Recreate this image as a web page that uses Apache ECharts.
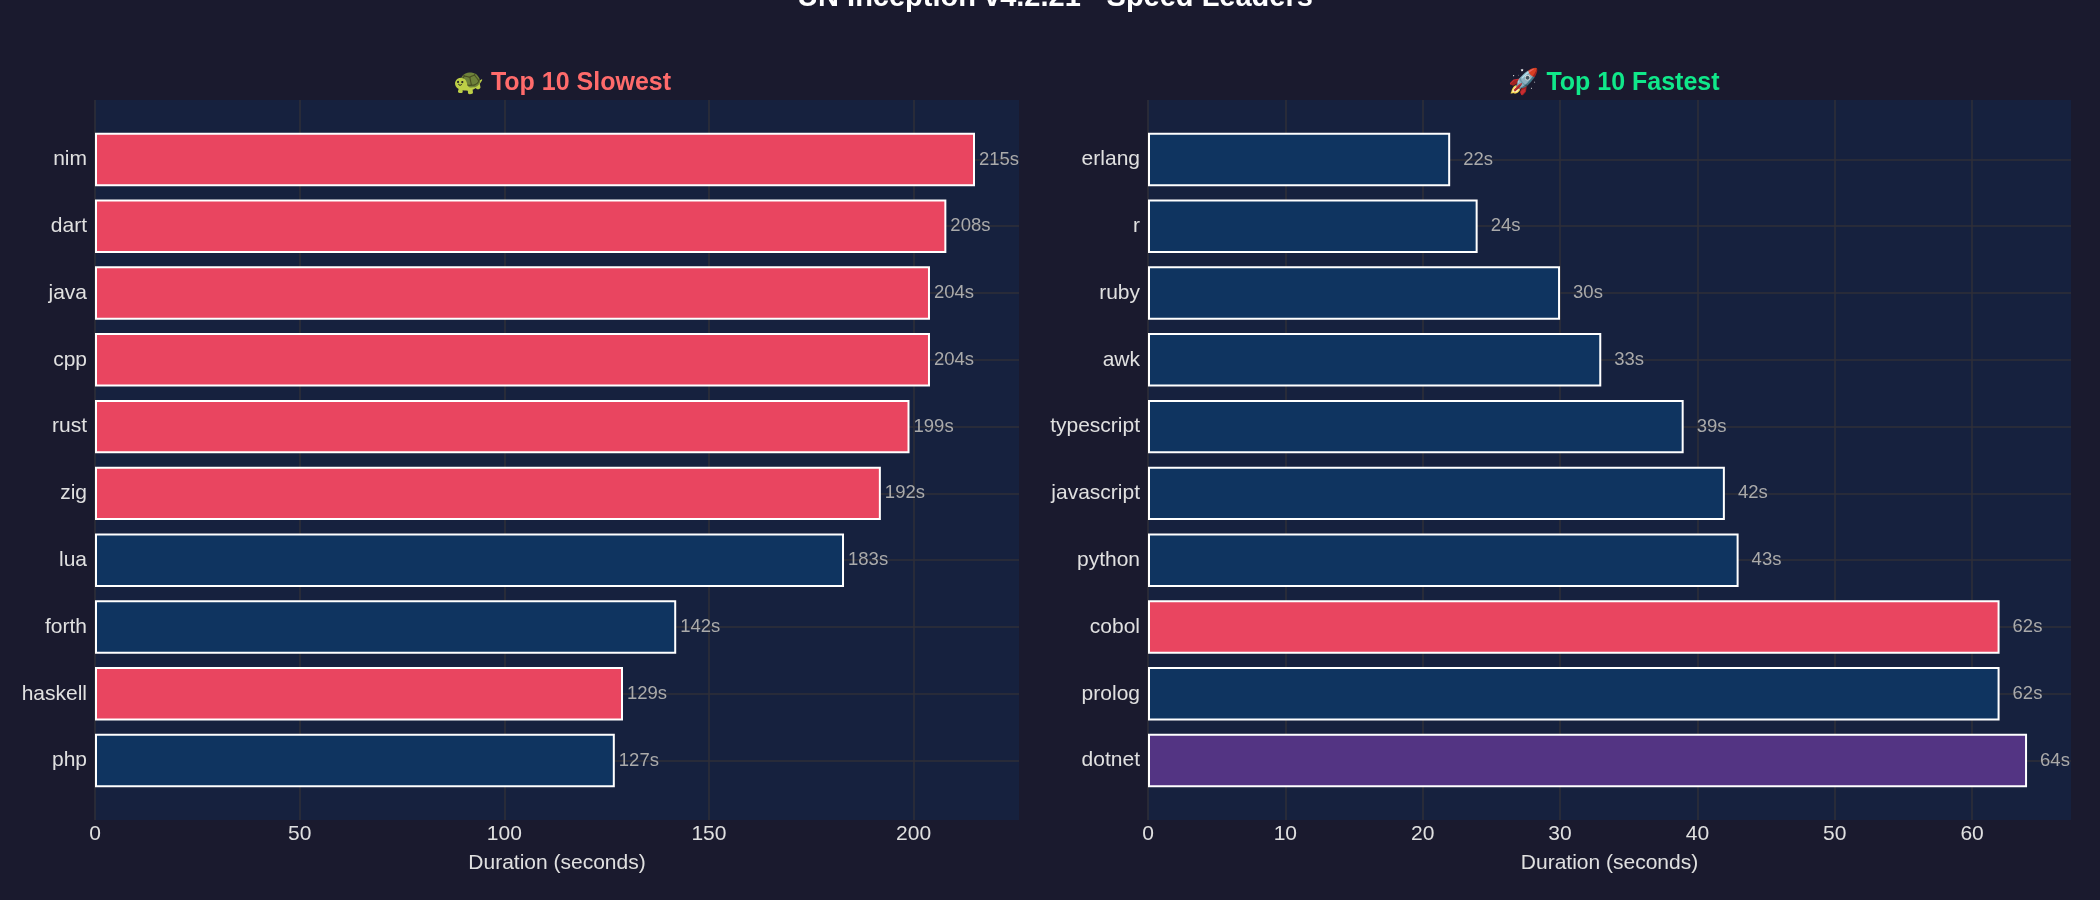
<!DOCTYPE html>
<html>
<head>
<meta charset="utf-8">
<title>Speed Leaders</title>
<script src="https://cdn.jsdelivr.net/npm/echarts@6/dist/echarts.min.js"></script>
<style>
	html,body{margin:0;padding:0;background:#1a1a2e;}
	#box{width:2100px;height:900px;}
</style>
</head>
<body>
<div id="box"></div>
<script>
// data
var slowNames = ["nim","dart","java","cpp","rust","zig","lua","forth","haskell","php"];
var slowValues = [215,208,204,204,199,192,183,142,129,127];
var slowGroups = ["red","red","red","red","red","red","navy","navy","red","navy"];

var fastNames = ["erlang","r","ruby","awk","typescript","javascript","python","cobol","prolog","dotnet"];
var fastValues = [22,24,30,33,39,42,43,62,62,64];
var fastGroups = ["navy","navy","navy","navy","navy","navy","navy","red","navy","purple"];

var slowTicks = [0,50,100,150,200];
var fastTicks = [0,10,20,30,40,50,60];

var colors = {red:"#e94560", navy:"#0f3460", purple:"#533483"};

var font = "Liberation Sans, Arial, sans-serif";

// 绘图区 (像素)
var plotTop = 100, plotH = 720;
var unit = plotH / 10.78;   // 一个类目的高度
var panels = [
	{left:95, width:924, names:slowNames, values:slowValues, groups:slowGroups, ticks:slowTicks, labelGap:4},
	{left:1148, width:923, names:fastNames, values:fastValues, groups:fastGroups, ticks:fastTicks, labelGap:13}
];

var grid = [], xAxis = [], yAxis = [], series = [];

panels.forEach(function (p, i) {
	var max = Math.max.apply(null, p.values) * 1.05;
	var step = p.ticks[1] - p.ticks[0];
	var base = i * 3;
	// 背景 + x轴
	grid.push({left:p.left, width:p.width, top:plotTop, height:plotH, show:true, backgroundColor:"#16213e", borderWidth:0, containLabel:false});
	// 柱子
	grid.push({left:p.left, width:p.width, top:plotTop + 0.39 * unit, height:10 * unit, containLabel:false});
	// 横向网格线
	grid.push({left:p.left, width:p.width, top:plotTop + 0.89 * unit, height:9 * unit, containLabel:false});

	xAxis.push({
		type:"value", gridIndex:base, min:0, max:max, interval:step,
		axisLine:{show:false}, axisTick:{show:false},
		axisLabel:{color:"#e0e0e0", fontSize:21, fontFamily:font, margin:4, showMaxLabel:false},
		splitLine:{show:true, showMaxLine:false, lineStyle:{color:"#2f2f38", width:1.5}},
		name:"Duration (seconds)", nameLocation:"middle", nameGap:33,
		nameTextStyle:{color:"#e0e0e0", fontSize:21, fontFamily:font}
	});
	xAxis.push({type:"value", gridIndex:base + 1, min:0, max:max, show:false});
	xAxis.push({type:"value", gridIndex:base + 2, min:0, max:max, show:false});

	yAxis.push({type:"value", gridIndex:base, show:false});
	yAxis.push({
		type:"category", gridIndex:base + 1, data:p.names, inverse:true,
		axisLine:{show:false}, axisTick:{show:false}, splitLine:{show:false},
		axisLabel:{color:"#e0e0e0", fontSize:21, fontFamily:font, margin:8, padding:[6,0,0,0]}
	});
	yAxis.push({
		type:"category", gridIndex:base + 2, data:p.names, inverse:true, boundaryGap:false,
		axisLine:{show:false}, axisTick:{show:false}, axisLabel:{show:false},
		splitLine:{show:true, lineStyle:{color:"#2f2f38", width:1.5}}
	});

	series.push({
		type:"bar",
		xAxisIndex:base + 1,
		yAxisIndex:base + 1,
		barCategoryGap:"20%",
		data:p.values.map(function (v, k) {
			return {value:v, itemStyle:{color:colors[p.groups[k]]}};
		}),
		itemStyle:{borderColor:"#ffffff", borderWidth:2},
		label:{
			show:true, position:"right", distance:p.labelGap,
			formatter:"{c}s", color:"#aaaaaa", fontSize:18.5, fontFamily:font
		},
		silent:true
	});
});

var option = {
	backgroundColor:"#1a1a2e",
	animation:false,
	title:[
		{text:"UN Inception v4.2.21 - Speed Leaders", left:1050, top:-22, textAlign:"center",
			textStyle:{color:"#ffffff", fontSize:29, fontWeight:"bold", fontFamily:font}},
		{text:"🐢 Top 10 Slowest", left:557, top:66, textAlign:"center",
			textStyle:{color:"#ff6b6b", fontSize:25, fontWeight:"bold", fontFamily:font}},
		{text:"🚀 Top 10 Fastest", left:1609, top:66, textAlign:"center",
			textStyle:{color:"#10e88a", fontSize:25, fontWeight:"bold", fontFamily:font}}
	],
	grid:grid,
	xAxis:xAxis,
	yAxis:yAxis,
	series:series
};

var chart = echarts.init(document.getElementById("box"));
chart.setOption(option);
</script>
</body>
</html>
